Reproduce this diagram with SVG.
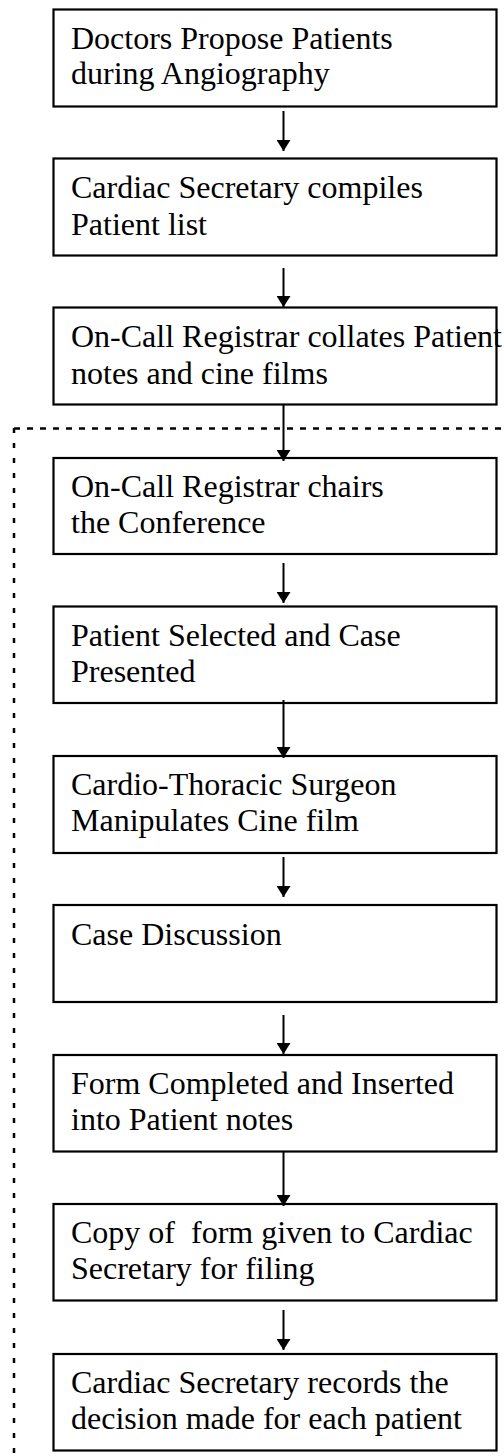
<svg xmlns="http://www.w3.org/2000/svg" width="504" height="1456" viewBox="0 0 504 1456">
<defs>
<style>
.box{fill:#fff;stroke:#000;stroke-width:2.2}
.t{font-family:"Liberation Serif","Times New Roman",serif;font-size:32px;fill:#000;white-space:pre}
.c{stroke:#000;stroke-width:2;fill:none}
.dh{stroke:#000;stroke-width:2.5;fill:none;stroke-dasharray:6 7}
.dv{stroke:#000;stroke-width:2.5;fill:none;stroke-dasharray:5 10}
</style>
<marker id="ah" viewBox="0 0 11 14" refX="11" refY="7" markerWidth="11" markerHeight="14" markerUnits="userSpaceOnUse" orient="auto">
<path d="M0,0 L11,7 L0,14 z" fill="#000"/>
</marker>
</defs>
<rect width="504" height="1456" fill="#fff"/>
<g id="boundary">
<line class="dh" x1="14" y1="428.5" x2="504" y2="428.5"/>
<line class="dv" x1="14" y1="428" x2="14" y2="1456"/>
</g>
<g id="n1"><rect class="box" x="53.5" y="9.5" width="443" height="97"/><text class="t" x="71" y="49">Doctors Propose Patients</text><text class="t" x="71" y="84">during Angiography</text></g>
<g id="n2"><rect class="box" x="53.5" y="158.5" width="443" height="97"/><text class="t" x="71" y="198">Cardiac Secretary compiles</text><text class="t" x="71" y="235">Patient list</text></g>
<g id="n3"><rect class="box" x="53.5" y="307.5" width="443" height="97"/><text class="t" x="71" y="347">On-Call Registrar collates Patient</text><text class="t" x="71" y="384">notes and cine films</text></g>
<g id="n4"><rect class="box" x="53.5" y="458" width="443" height="96"/><text class="t" x="71" y="497">On-Call Registrar chairs</text><text class="t" x="71" y="533">the Conference</text></g>
<g id="n5"><rect class="box" x="53.5" y="606.5" width="443" height="96.5"/><text class="t" x="71" y="646">Patient Selected and Case</text><text class="t" x="71" y="682">Presented</text></g>
<g id="n6"><rect class="box" x="53.5" y="756" width="443" height="97"/><text class="t" x="71" y="795">Cardio-Thoracic Surgeon</text><text class="t" x="71" y="831">Manipulates Cine film</text></g>
<g id="n7"><rect class="box" x="53.5" y="905" width="443" height="97"/><text class="t" x="71" y="945">Case Discussion</text></g>
<g id="n8"><rect class="box" x="53.5" y="1055" width="443" height="96.5"/><text class="t" x="71" y="1094">Form Completed and Inserted</text><text class="t" x="71" y="1130">into Patient notes</text></g>
<g id="n9"><rect class="box" x="53.5" y="1204" width="443" height="96.5"/><text class="t" x="71" y="1243" xml:space="preserve">Copy of  form given to Cardiac</text><text class="t" x="71" y="1279">Secretary for filing</text></g>
<g id="n10"><rect class="box" x="53.5" y="1354" width="443" height="96.5"/><text class="t" x="71" y="1393">Cardiac Secretary records the</text><text class="t" x="71" y="1429">decision made for each patient</text></g>
<g id="connectors">
<line class="c" x1="283.5" y1="111" x2="283.5" y2="151" marker-end="url(#ah)"/>
<line class="c" x1="283.5" y1="268" x2="283.5" y2="307" marker-end="url(#ah)"/>
<line class="c" x1="283.5" y1="405" x2="283.5" y2="461" marker-end="url(#ah)"/>
<line class="c" x1="283.5" y1="563" x2="283.5" y2="603" marker-end="url(#ah)"/>
<line class="c" x1="283.5" y1="700" x2="283.5" y2="758" marker-end="url(#ah)"/>
<line class="c" x1="283.5" y1="857" x2="283.5" y2="897" marker-end="url(#ah)"/>
<line class="c" x1="283.5" y1="1015" x2="283.5" y2="1054" marker-end="url(#ah)"/>
<line class="c" x1="283.5" y1="1152" x2="283.5" y2="1206" marker-end="url(#ah)"/>
<line class="c" x1="283.5" y1="1310" x2="283.5" y2="1350" marker-end="url(#ah)"/>
</g>
</svg>
